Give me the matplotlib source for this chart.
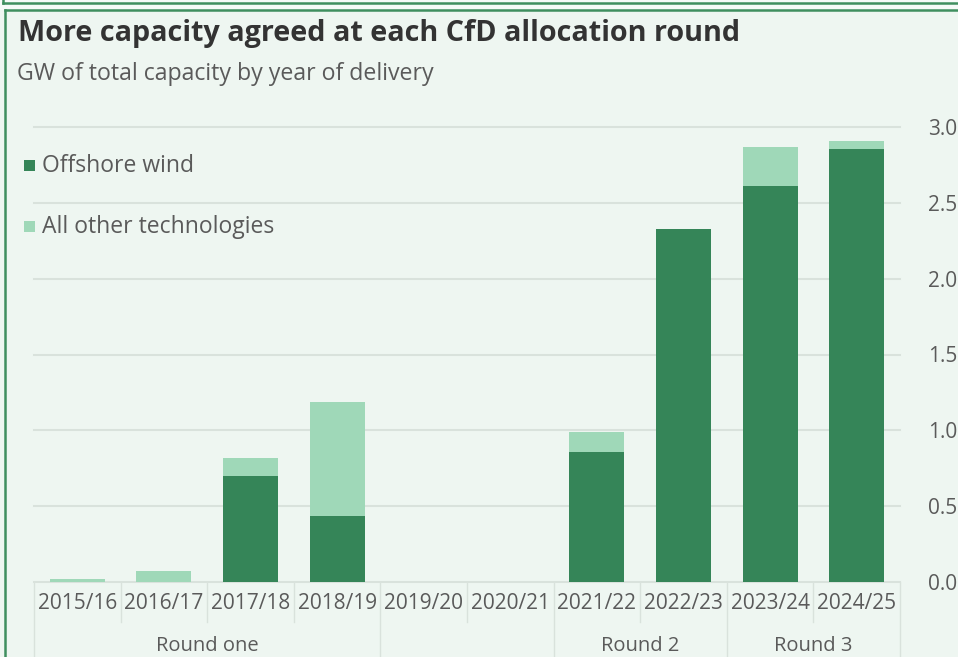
import numpy as np
import matplotlib
matplotlib.use("Agg")
import matplotlib.pyplot as plt
from matplotlib.lines import Line2D
from matplotlib.patches import Rectangle

# data (GW)
years = ["2015/16", "2016/17", "2017/18", "2018/19", "2019/20",
         "2020/21", "2021/22", "2022/23", "2023/24", "2024/25"]
offshore = [0.0, 0.0, 0.70, 0.435, 0.0, 0.0, 0.86, 2.33, 2.61, 2.855]
other = [0.02, 0.07, 0.12, 0.755, 0.0, 0.0, 0.13, 0.0, 0.26, 0.055]
rounds = ["Round one", "", "Round 2", "Round 3"]
round_edges = [0, 4, 6, 8, 10]
yticks = [0.0, 0.5, 1.0, 1.5, 2.0, 2.5, 3.0]

dark = "#358558"
light = "#9fd8b8"
bg = "#eef6f1"
grid_c = "#d9e2dc"
text_c = "#5a5a5a"
border = "#3f8f5f"

plt.rcParams["font.family"] = ["Open Sans", "DejaVu Sans"]

W, H = 958, 657
fig = plt.figure(figsize=(W / 100, H / 100), dpi=100)
fig.patch.set_facecolor(bg)

def fx(px):
    return px / W

def fy(py):
    return 1 - py / H

# frame lines (bottom of the box above, top/left of this box)
fig.add_artist(Rectangle((0, fy(9.5)), 1, fy(0) - fy(9.5), transform=fig.transFigure,
                         facecolor="#f6faf8", edgecolor="none", zorder=-1))
fig.add_artist(Line2D([fx(3), fx(958)], [fy(3), fy(3)], color=border, lw=1.8))
fig.add_artist(Line2D([fx(3), fx(3)], [fy(0), fy(3)], color=border, lw=1.8))
fig.add_artist(Line2D([fx(5), fx(958)], [fy(9.5), fy(9.5)], color=border, lw=1.8))
fig.add_artist(Line2D([fx(5), fx(5)], [fy(9.5), fy(657)], color=border, lw=1.8))

fig.text(fx(18), fy(33), "More capacity agreed at each CfD allocation round",
         fontsize=20.7, fontweight="bold", color="#333333", va="center")
fig.text(fx(17), fy(74), "GW of total capacity by year of delivery",
         fontsize=16.7, color=text_c, va="center")

ax = fig.add_axes([fx(34), fy(582), fx(900) - fx(34), fy(127) - fy(582)])
ax.set_facecolor(bg)
x = np.arange(len(years))
ax.bar(x, offshore, width=0.635, color=dark, zorder=3)
ax.bar(x, other, width=0.635, bottom=offshore, color=light, zorder=3)

ax.set_xlim(-0.5, len(years) - 0.5)
ax.set_ylim(0, 3.0)
ax.set_yticks(yticks)
ax.set_yticklabels([f"{v:.1f}" for v in yticks])
ax.yaxis.tick_right()
ax.tick_params(axis="y", length=0, pad=20, labelsize=15, labelcolor=text_c)
ax.set_xticks([])
for v in yticks:
    ax.axhline(v, color=grid_c, lw=1.5, zorder=1, clip_on=False)
for s in ax.spines.values():
    s.set_visible(False)

# category labels and separators below the axis
tr = ax.get_xaxis_transform()
for i, yr in enumerate(years):
    ax.text(i, -0.047, yr, transform=tr, ha="center", va="center",
            fontsize=15, color=text_c)
for e in range(len(years) + 1):
    long_line = e in round_edges
    ax.add_artist(Line2D([e - 0.5, e - 0.5], [0, -0.17 if long_line else -0.088],
                         transform=tr, color=grid_c, lw=1, clip_on=False))
for name, a, b in zip(rounds, round_edges[:-1], round_edges[1:]):
    ax.text((a + b - 1) / 2, -0.14, name, transform=tr, ha="center", va="center",
            fontsize=14.5, color=text_c)

# legend
for label, c, py in [("Offshore wind", dark, 166), ("All other technologies", light, 227)]:
    fig.add_artist(Rectangle((fx(24), fy(py) - 5 / H), 11 / W, 11 / H,
                             transform=fig.transFigure, facecolor=c, edgecolor="none"))
    fig.text(fx(42), fy(py), label, fontsize=16.5, color=text_c, va="center")

fig.savefig("out.png", dpi=100, facecolor=bg)
